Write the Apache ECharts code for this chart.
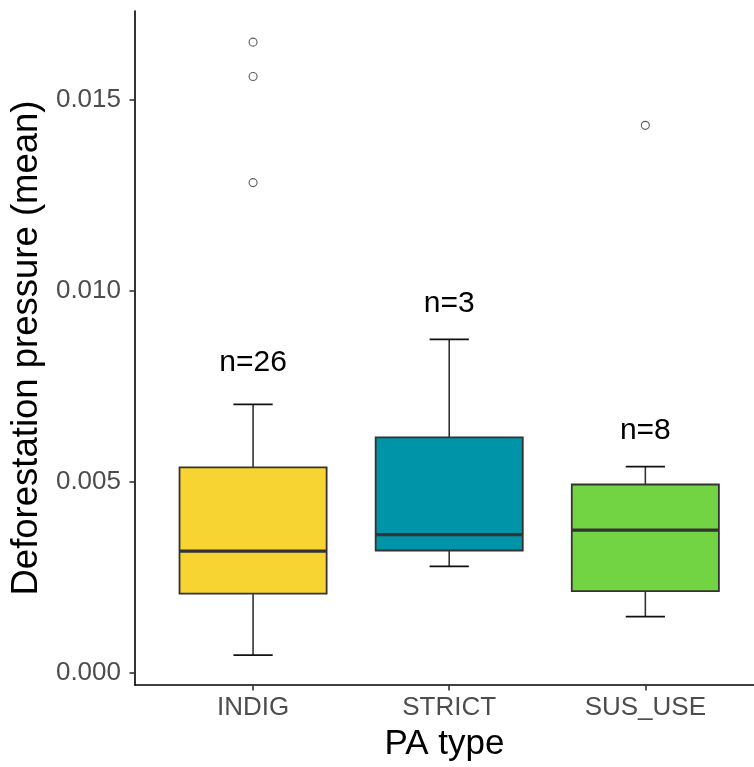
<!DOCTYPE html>
<html>
<head>
<meta charset="utf-8">
<script src="https://cdn.jsdelivr.net/npm/echarts@6/dist/echarts.min.js"></script>
<style>
  html, body { margin: 0; padding: 0; background: #fff; }
  #chart { width: 754px; height: 767px; }
</style>
</head>
<body>
<div id="chart"></div>
<script>
// ---- data ----
const categories = ['INDIG', 'STRICT', 'SUS_USE'];
// [lower whisker, Q1, median, Q3, upper whisker]
const indigBox  = [0.000469, 0.002077, 0.003189, 0.005378, 0.007027];
const strictBox = [0.002788, 0.003205, 0.003622, 0.006167, 0.008729];
const susUseBox = [0.001477, 0.002142, 0.003739, 0.004932, 0.005399];
const indigOutliers  = [0.016504, 0.015607, 0.012830];
const strictOutliers = [];
const susUseOutliers = [0.014328];
const nCounts = [26, 3, 8];
const nLabelY = [0.008129, 0.009667, 0.006342];
const yTicks = [0.000, 0.005, 0.010, 0.015];

// ---- styles ----
const boxColors = ['#F8D432', '#0094A8', '#72D443'];
const FONT = "'Liberation Sans', Arial, sans-serif";

const boxes = [indigBox, strictBox, susUseBox];
const boxData = boxes.map((b, i) => [i + 1].concat(b));
const outlierData = [];
[indigOutliers, strictOutliers, susUseOutliers].forEach((arr, i) => {
  arr.forEach(v => outlierData.push([i + 1, v]));
});
const labelData = nCounts.map((n, i) => [i + 1, nLabelY[i], 'n=' + n]);

const chart = echarts.init(document.getElementById('chart'), null, { renderer: 'canvas' });

function renderBox(params, api) {
  const x = api.value(0);
  const lo = api.coord([x, api.value(1)]);
  const q1 = api.coord([x, api.value(2)]);
  const med = api.coord([x, api.value(3)]);
  const q3 = api.coord([x, api.value(4)]);
  const hi = api.coord([x, api.value(5)]);
  const bw = api.size([0.75, 0])[0];
  const cw = api.size([0.2, 0])[0];
  const cx = lo[0];
  const fill = boxColors[params.dataIndex];
  return {
    type: 'group',
    children: [
      { type: 'line', shape: { x1: cx, y1: lo[1], x2: cx, y2: hi[1] },
        style: { stroke: '#333333', lineWidth: 1.6 } },
      { type: 'line', shape: { x1: cx - cw / 2, y1: lo[1], x2: cx + cw / 2, y2: lo[1] },
        style: { stroke: '#111111', lineWidth: 1.8 } },
      { type: 'line', shape: { x1: cx - cw / 2, y1: hi[1], x2: cx + cw / 2, y2: hi[1] },
        style: { stroke: '#111111', lineWidth: 1.8 } },
      { type: 'rect', shape: { x: cx - bw / 2, y: q3[1], width: bw, height: q1[1] - q3[1] },
        style: { fill: fill, stroke: '#333333', lineWidth: 1.8 } },
      { type: 'line', shape: { x1: cx - bw / 2, y1: med[1], x2: cx + bw / 2, y2: med[1] },
        style: { stroke: '#333333', lineWidth: 3.4 } }
    ]
  };
}

function renderLabel(params, api) {
  const p = api.coord([api.value(0), api.value(1)]);
  return {
    type: 'text',
    x: p[0], y: p[1],
    style: {
      text: labelData[params.dataIndex][2],
      fontSize: 30, fontFamily: FONT, fill: '#000000',
      align: 'center', verticalAlign: 'middle'
    }
  };
}

const option = {
  animation: false,
  backgroundColor: '#ffffff',
  grid: { left: 133.3, right: 0, top: 11, bottom: 79.3, containLabel: false },
  xAxis: {
    type: 'value',
    min: 0.398, max: 3.554,
    name: 'PA type',
    nameLocation: 'middle',
    nameGap: 42,
    nameTextStyle: { fontSize: 35, fontFamily: FONT, color: '#000000' },
    splitLine: { show: false },
    axisLine: { show: true, onZero: false, lineStyle: { color: '#000000', width: 1.6 } },
    axisTick: { show: true, length: 5.5, customValues: [1, 2, 3], lineStyle: { color: '#333333', width: 1.6 } },
    axisLabel: {
      customValues: [1, 2, 3],
      margin: 10,
      fontSize: 26, fontFamily: FONT, color: '#4D4D4D',
      formatter: v => categories[Math.round(v) - 1] || ''
    }
  },
  yAxis: {
    type: 'value',
    min: -0.000313, max: 0.017319,
    name: 'Deforestation pressure (mean)',
    nameLocation: 'middle',
    nameGap: 90,
    nameTextStyle: { fontSize: 36.5, fontFamily: FONT, color: '#000000' },
    splitLine: { show: false },
    axisLine: { show: true, onZero: false, lineStyle: { color: '#000000', width: 1.6 } },
    axisTick: { show: true, length: 5.5, customValues: yTicks, lineStyle: { color: '#333333', width: 1.6 } },
    axisLabel: {
      customValues: yTicks,
      margin: 14,
      fontSize: 26, fontFamily: FONT, color: '#4D4D4D',
      formatter: v => v.toFixed(3)
    }
  },
  series: [
    {
      type: 'custom',
      renderItem: renderBox,
      data: boxData,
      encode: { x: 0, y: [1, 2, 3, 4, 5] },
      clip: false,
      z: 2
    },
    {
      type: 'scatter',
      data: outlierData,
      symbol: 'circle',
      symbolSize: 8,
      itemStyle: { color: 'rgba(0,0,0,0)', borderColor: '#333333', borderWidth: 1.1 },
      z: 3
    },
    {
      type: 'custom',
      renderItem: renderLabel,
      data: labelData.map(d => [d[0], d[1]]),
      encode: { x: 0, y: 1 },
      clip: false,
      z: 4
    }
  ]
};
chart.setOption(option);
</script>
</body>
</html>
